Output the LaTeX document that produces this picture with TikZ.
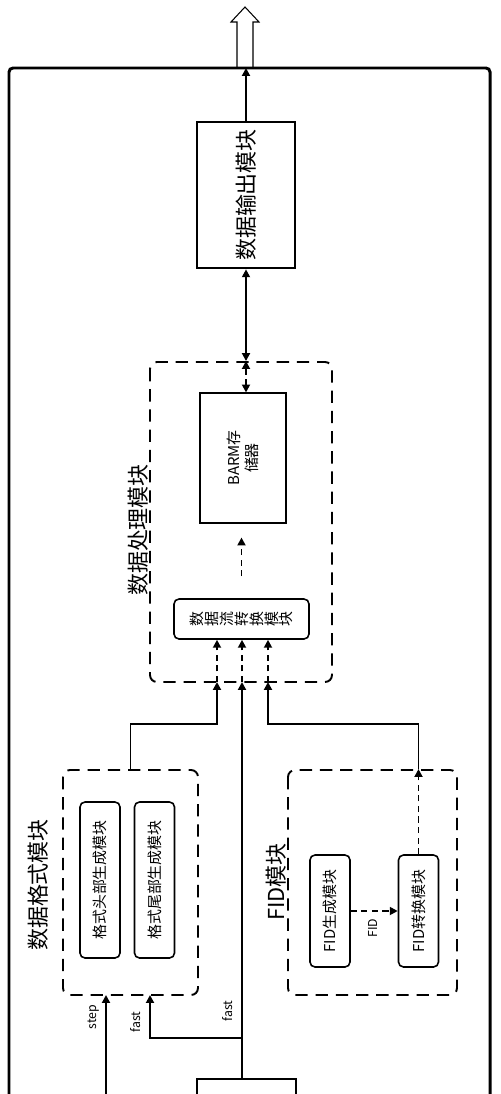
\documentclass[tikz,border=0pt]{standalone}
\usepackage{fontspec}
\setmainfont{Noto Sans CJK SC}
\usetikzlibrary{arrows.meta}

\begin{document}
\begin{tikzpicture}[x=0.2mm,y=-0.2mm]
		\tikzstyle{outer-frame}=[line width=1.7pt,rounded corners=0.8mm]
		\tikzstyle{hollow}=[draw,line width=0.6pt,fill=white]
		\tikzstyle{solid-box}=[draw,line width=1.5pt,rotate=90,inner sep=0pt,font=\fontsize{12.5}{15}\selectfont]
		\tikzstyle{thin-box}=[draw,line width=0.6pt,rotate=90,inner sep=0pt,align=center,font=\fontsize{8.5}{10}\selectfont]
		\tikzstyle{round-box}=[draw,line width=0.9pt,rounded corners=1mm,rotate=90,inner sep=0pt,align=center,font=\fontsize{8.5}{8.5}\selectfont]
		\tikzstyle{dash-box}=[draw,line width=1.1pt,dash pattern=on 7pt off 4.5pt,rounded corners=1.4mm,rotate=90,inner sep=0pt]
		\tikzstyle{big-text}=[rotate=90,inner sep=0pt,font=\fontsize{12.5}{15}\selectfont]
		\tikzstyle{small-text}=[rotate=90,inner sep=0pt,font=\fontsize{7}{8}\selectfont]
		\tikzstyle{flow}=[-{Triangle[length=4.5pt,width=4.5pt]},line width=1.1pt]
		\tikzstyle{flow-both}=[{Triangle[length=4.5pt,width=4.5pt]}-{Triangle[length=4.5pt,width=4.5pt]},line width=1.1pt]
		\tikzstyle{dash-flow}=[flow,dash pattern=on 3.5pt off 2.5pt]
		\tikzstyle{dash-both}=[flow-both,dash pattern=on 3.5pt off 2.5pt]
		\useasboundingbox (0,0) rectangle (500,1094);
		\clip (0,0) rectangle (500,1094);
		% outer frame and output arrow
		\draw [hollow] (237,68) -- (237,22) -- (231,22) -- (245,7) -- (259,22) -- (253,22) -- (253,68);
		\draw [outer-frame] (9,1130) -- (9,68) -- (490,68) -- (490,1130);
		\coordinate (top) at (246,68);
		% output module
		\node [solid-box,minimum width=29.2mm,minimum height=19.6mm] at (246,195) (out) {数据输出模块};
		\draw [flow] (out.east) -- (top);
		% processing module
		\node [dash-box,minimum width=64mm,minimum height=36.4mm] at (241,522) (proc) {};
		\node [big-text] at (138,530) (proc-label) {数据处理模块};
		\node [thin-box,minimum width=26mm,minimum height=17.2mm] at (243,458) (barm) {BARM存\\储器};
		\node [round-box,minimum width=8mm,minimum height=27mm] at (241.5,619) (conv) {数\\据\\流\\转\\换\\模\\块};
		\draw [flow-both] (out.west) -- (out.west |- proc.east);
		\draw [dash-both] (out.west |- proc.east) -- (out.west |- barm.east);
		\draw [dash-flow,shorten <=4.4mm,shorten >=2.8mm] (conv.east) -- (conv.east |- barm.west);
		\coordinate (in-fmt) at (217,682);
		\coordinate (in-fast) at (242,682);
		\coordinate (in-fid) at (268,682);
		\foreach \c in {in-fmt,in-fast,in-fid}
			\draw [dash-flow] (\c) -- (\c |- conv.west);
		% format module
		\node [dash-box,minimum width=45mm,minimum height=27mm] at (130.5,882.5) (fmt) {};
		\node [big-text] at (38,885) (fmt-label) {数据格式模块};
		\node [round-box,minimum width=31.2mm,minimum height=8mm] at (100,880) (head) {格式头部生成模块};
		\node [round-box,minimum width=31.2mm,minimum height=8mm] at (154.5,880) (tail) {格式尾部生成模块};
		\draw [flow] (fmt.east) -- ++(0,-45) -| (in-fmt);
		% FID module
		\node [dash-box,minimum width=45mm,minimum height=33.8mm] at (372.5,882.5) (fid) {};
		\node [big-text] at (276,882) (fid-label) {FID模块};
		\node [round-box,minimum width=22.4mm,minimum height=8mm] at (330,911) (gen) {FID生成模块};
		\node [round-box,minimum width=22.4mm,minimum height=8mm] at (418.5,911) (trans) {FID转换模块};
		\node [small-text] at (373,928) (fid-tag) {FID};
		\draw [dash-flow] (gen.south) -- (trans.north);
		\draw [dash-flow] (trans.east) -- (trans.east |- fid.east);
		\draw [flow] (trans.east |- fid.east) -- ++(0,-45) -| (in-fid);
		% step and fast inputs
		\node [solid-box,line width=1.2pt,minimum width=12.4mm,minimum height=19.8mm] at (246.5,1110) (ctrl) {};
		\coordinate (fast-split) at (242,1038);
		\coordinate (fast-in) at (150,995);
		\coordinate (step-in) at (106,995);
		\coordinate (step-src) at (106,1100);
		\draw [flow] (ctrl.east -| in-fast) -- (in-fast);
		\draw [flow] (fast-split) -| (fast-in);
		\draw [flow] (step-src) -- (step-in);
		\node [small-text] at (94,1017) (step-tag) {step};
		\node [small-text] at (136,1022) (fast-tag) {fast};
		\node [small-text] at (228,1011) (fast-tag2) {fast};
	\end{tikzpicture}
\end{document}
